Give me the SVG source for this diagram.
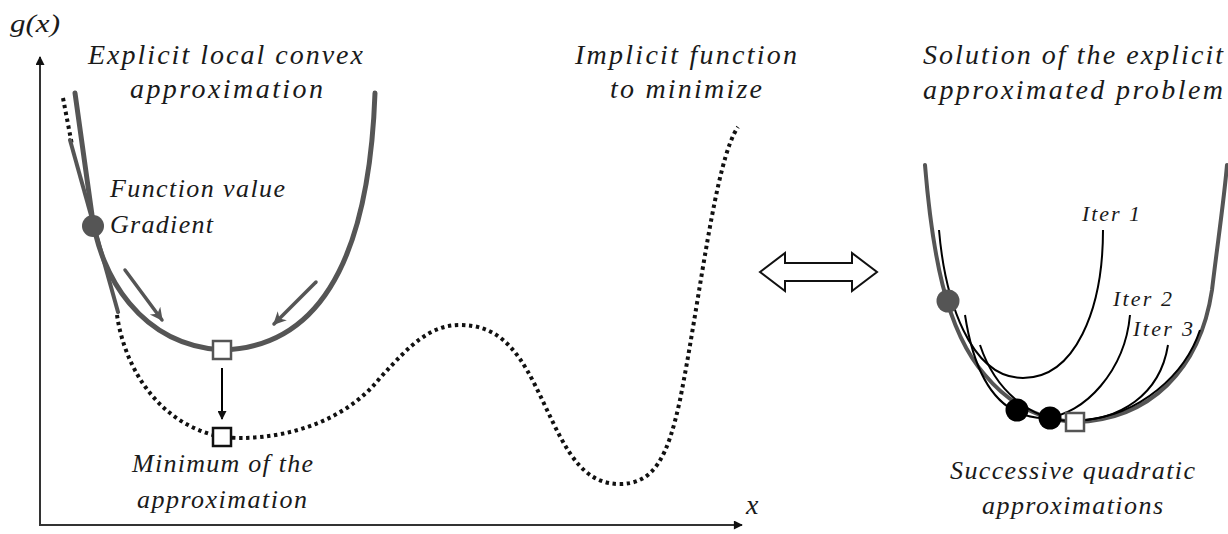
<svg xmlns="http://www.w3.org/2000/svg" width="1228" height="534" viewBox="0 0 1228 534">
<defs>
<style>
text{font-family:"Liberation Serif","Times New Roman",serif;font-style:italic;fill:#1a1a1a;}
.t26{font-size:28px;}
.t24{font-size:26px;}
.t21{font-size:22px;}
.axis{stroke:#333;stroke-width:2;fill:none;}
.gray{stroke:#555;fill:none;stroke-linecap:round;}
.dot{stroke:#111;stroke-width:4;fill:none;stroke-dasharray:3.4 3.6;}
.blk{stroke:#000;stroke-width:2;fill:none;}
</style>
<marker id="ah" viewBox="0 0 10 10" refX="9" refY="5" markerWidth="11" markerHeight="9" markerUnits="userSpaceOnUse" orient="auto">
<path d="M0,0 L10,5 L0,10 Z" fill="#111"/>
</marker>
<marker id="gah" viewBox="0 0 10 10" refX="9" refY="5" markerWidth="15" markerHeight="13" markerUnits="userSpaceOnUse" orient="auto">
<path d="M0,0 L10,5 L0,10 L3,5 Z" fill="#555"/>
</marker>
</defs>
<rect width="1228" height="534" fill="#fff"/>

<g id="axes">
<line class="axis" x1="40" y1="526" x2="40" y2="57" marker-end="url(#ah)"/>
<line class="axis" x1="39" y1="525" x2="742" y2="525" marker-end="url(#ah)"/>
<text class="t24" x="10" y="32" textLength="50" lengthAdjust="spacingAndGlyphs">g(x)</text>
<text class="t26" x="746" y="514">x</text>
</g>

<g id="implicit-function">
<path class="dot" d="M63,98 L72,145"/>
<path class="dot" d="M117,315 C125,370 160,425 222,437 C270,442 340,428 380,378 C410,345 430,325 460,325 C495,325 515,345 535,385 C560,435 575,483 618,484 C655,485 668,455 680,400 C700,300 715,160 738,127"/>
</g>

<g id="convex-approximation">
<path class="gray" stroke-width="4" d="M70,140 L118,312"/>
<path class="gray" stroke-width="5" d="M75,93 L92,215 C100,275 140,345 222,350 C300,348 368,290 375,93"/>
<line class="gray" stroke-width="3.5" x1="125" y1="270" x2="162" y2="320" marker-end="url(#gah)"/>
<line class="gray" stroke-width="3.5" x1="316" y1="282" x2="274" y2="324" marker-end="url(#gah)"/>
<circle cx="93" cy="226" r="11" fill="#555"/>
<rect x="213" y="341" width="18" height="18" fill="#fff" stroke="#555" stroke-width="2.5"/>
</g>

<g id="minimum-arrow">
<line class="blk" stroke-width="1.6" x1="222" y1="368" x2="222" y2="419" marker-end="url(#ah)"/>
<rect x="213" y="428" width="18" height="18" fill="#fff" stroke="#111" stroke-width="2.5"/>
</g>

<g id="labels-left">
<text class="t26" x="88" y="64" textLength="275" lengthAdjust="spacing">Explicit local convex</text>
<text class="t26" x="130" y="98" textLength="193" lengthAdjust="spacing">approximation</text>
<text class="t24" x="110" y="197" textLength="175" lengthAdjust="spacing">Function value</text>
<text class="t24" x="110" y="233" textLength="103" lengthAdjust="spacing">Gradient</text>
<text class="t24" x="132" y="472" textLength="181" lengthAdjust="spacing">Minimum of the</text>
<text class="t24" x="137" y="508" textLength="170" lengthAdjust="spacing">approximation</text>
</g>

<g id="labels-middle">
<text class="t26" x="575" y="64" textLength="222" lengthAdjust="spacing">Implicit function</text>
<text class="t26" x="610" y="98" textLength="152" lengthAdjust="spacing">to minimize</text>
</g>

<g id="equivalence-arrow">
<polygon points="760,272 785,253 785,263 852,263 852,253 877,272 852,291 852,281 785,281 785,291" fill="#fff" stroke="#111" stroke-width="2" stroke-linejoin="miter"/>
</g>

<g id="successive-approximations">
<path class="gray" stroke-width="4" d="M925,165 C932,250 945,330 985,375 C1010,405 1040,420 1075,422 C1150,420 1200,370 1212,290 C1218,240 1224,200 1227,165"/>
<path class="blk" d="M939,230 C945,300 970,378 1023,378 C1075,378 1103,310 1103,230"/>
<path class="blk" d="M965,315 C975,380 1000,418 1045,418 C1085,415 1125,370 1130,315"/>
<path class="blk" d="M980,345 C995,390 1030,420 1070,421 C1120,421 1160,395 1168,345"/>
<path class="blk" d="M1084,420 C1140,415 1185,375 1200,330"/>
<circle cx="948" cy="301" r="11.5" fill="#555"/>
<circle cx="1017" cy="410" r="11.5" fill="#000"/>
<circle cx="1050" cy="418" r="11.5" fill="#000"/>
<rect x="1066" y="413" width="18" height="18" fill="#fff" stroke="#555" stroke-width="2.5"/>
<text class="t21" x="1082" y="221" textLength="58" lengthAdjust="spacing">Iter 1</text>
<text class="t21" x="1113" y="306" textLength="59" lengthAdjust="spacing">Iter 2</text>
<text class="t21" x="1133" y="336" textLength="60" lengthAdjust="spacing">Iter 3</text>
</g>

<g id="labels-right">
<text class="t26" x="923" y="64" textLength="300" lengthAdjust="spacing">Solution of the explicit</text>
<text class="t26" x="923" y="99" textLength="300" lengthAdjust="spacing">approximated problem</text>
<text class="t24" x="950" y="479" textLength="245" lengthAdjust="spacing">Successive quadratic</text>
<text class="t24" x="982" y="514" textLength="181" lengthAdjust="spacing">approximations</text>
</g>
</svg>
